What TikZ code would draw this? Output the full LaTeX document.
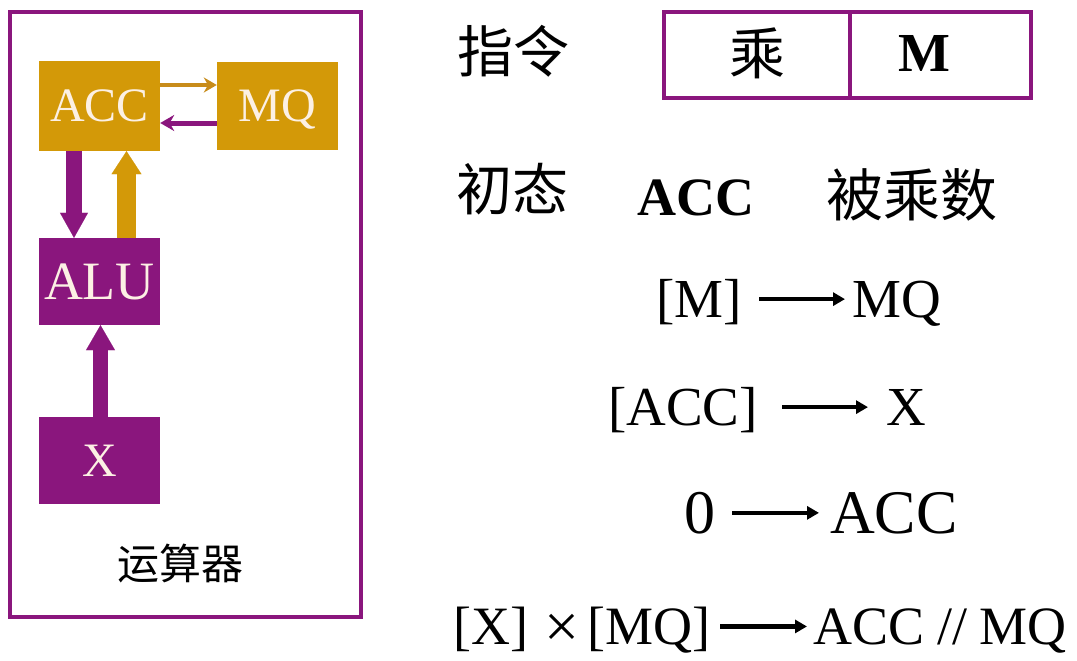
\documentclass[tikz,border=0pt]{standalone}
\usepackage{fontspec}
\setmainfont{Liberation Serif}
\newfontfamily\cjk{Noto Sans CJK SC}
\usetikzlibrary{arrows.meta}
\definecolor{accorange}{RGB}{211,153,8}
\definecolor{alupurple}{RGB}{138,22,125}
\definecolor{boxtext}{RGB}{252,240,228}
\definecolor{linkbrown}{RGB}{200,140,26}
\newcommand\fsz[1]{\fontsize{#1pt}{#1pt}\selectfont}
\begin{document}
\begin{tikzpicture}[x=1pt,y=-1pt,
  reg/.style={rectangle, inner sep=0pt, minimum width=121pt, minimum height=87pt, text=boxtext, font=\fsz{48}, text depth=0pt},
  orangereg/.style={reg, fill=accorange},
  purplereg/.style={reg, fill=alupurple},
  unitframe/.style={rectangle, draw=alupurple, line width=4.5pt, inner sep=0pt},
  instrbox/.style={rectangle, draw=alupurple, line width=4pt, inner sep=0pt, minimum height=86pt},
  cjktext/.style={inner sep=0pt, font=\cjk\fsz{#1}},
  eq/.style n args={3}{inner sep=0pt, anchor=base west, font=\fsz{#1}, text height=#2pt, text depth=#3pt},
  eqarrow/.style={line width=4.2pt, -{Triangle[length=12pt,width=13pt]}},
  fatarrow/.style n args={4}{draw=#1, line width=#2pt, -{Triangle[length=#3pt,width=#4pt,line width=0.1pt]}}
]
\fill[white] (0,0) rectangle (1077,661);
\useasboundingbox (0,0) rectangle (1077,661);

% ---- arithmetic unit ----
\node[unitframe, minimum width=351pt, minimum height=605pt] (unit) at (185.5,314.5) {};
\node[orangereg, minimum height=90pt] (acc) at (99.5,106) {ACC};
\node[orangereg] (mq) at (277.5,106) {MQ};
\node[purplereg, font=\fsz{54}] (alu) at (99.5,281.5) {ALU};
\node[purplereg] (xreg) at (99.5,460.5) {X};
\node[cjktext=42] (unitlabel) at (180,563.5) {运算器};

\draw[fatarrow={alupurple}{16}{25}{28}] ([xshift=-25.5pt]acc.south) -- ([xshift=-25.5pt]alu.north);
\draw[fatarrow={accorange}{19}{23}{30}] ([xshift=27pt]alu.north) -- ([xshift=27pt]acc.south);
\draw[fatarrow={alupurple}{15}{25}{29}] ([xshift=1pt]xreg.north) -- ([xshift=1pt]alu.south);
\draw[linkbrown, line width=4.5pt, -{Stealth[length=13pt,width=15pt]}] ([yshift=21pt]acc.east) -- ([yshift=21pt]mq.west);
\draw[alupurple, line width=5pt, -{Stealth[length=14pt,width=16pt]}] ([yshift=-17pt]mq.west) -- ([yshift=-17pt]acc.east);

% ---- instruction ----
\node[cjktext=56] (zhiling) at (513,51) {指令};
\node[instrbox, minimum width=186pt] (opfield) at (757,55.5) {};
\node[instrbox, minimum width=181pt] (addrfield) at (940.5,55.5) {};
\node[cjktext=56] (opname) at (757,53) {乘};
\node[inner sep=0pt, anchor=base, font=\bfseries\fsz{55}] (addrname) at (924.5,72) {M};

% ---- initial state ----
\node[cjktext=56] (chutai) at (512.5,189) {初态};
\node[inner sep=0pt, anchor=base west, font=\bfseries\fsz{54}] (initacc) at (637.5,215) {ACC};
\node[cjktext=57] (beichengshu) at (911.5,195) {被乘数};

% ---- transfers ----
\node[eq={55}{49.5}{13.75}] (s1l) at (656,317) {[M]};
\node[eq={55}{49.5}{13.75}] (s1r) at (852,317) {MQ};
\draw[eqarrow, shorten <=17.5pt, shorten >=7pt] (s1l.east) -- (s1r.west);

\node[eq={55}{49.5}{13.75}] (s2l) at (608,425) {[ACC]};
\node[eq={55}{49.5}{13.75}] (s2r) at (886,425) {X};
\draw[eqarrow, shorten <=24pt, shorten >=18pt] (s2l.east) -- (s2r.west);

\node[eq={62}{55.8}{15.5}] (s3l) at (684.5,533) {0};
\node[eq={62}{55.8}{15.5}] (s3r) at (830,533) {ACC};
\draw[eqarrow, shorten <=16.5pt, shorten >=11pt] (s3l.east) -- (s3r.west);

\node[eq={54}{48.6}{13.5}] (s4l) at (453,644) {[X]\hspace{16pt}\raisebox{-3pt}{\fsz{62}×}\hspace{8pt}[MQ]};
\node[eq={54}{48.6}{13.5}] (s4r) at (813,644) {ACC\hspace{13pt}//\hspace{12pt}MQ};
\draw[eqarrow, shorten <=10pt, shorten >=6pt] (s4l.east) -- (s4r.west);
\end{tikzpicture}
\end{document}
